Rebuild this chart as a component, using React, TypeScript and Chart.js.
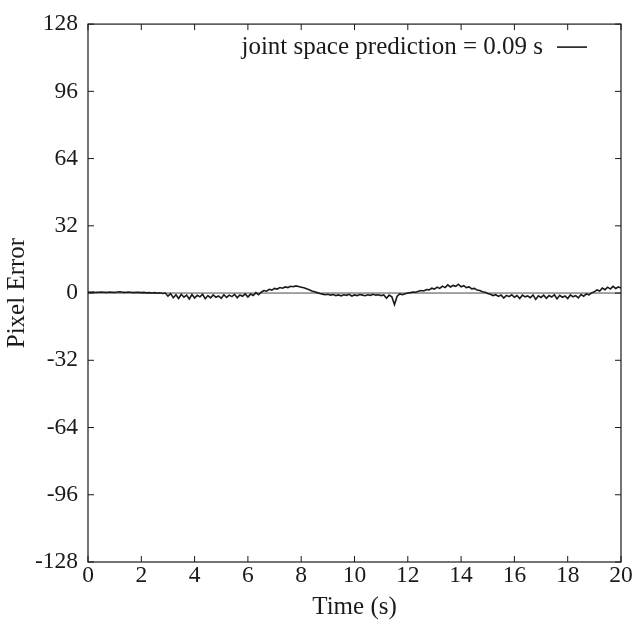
import React, { useEffect, useRef } from "react";
import { Chart, registerables } from "chart.js";

Chart.register(...registerables);

const seriesLabel = "joint space prediction = 0.09 s";
const sampleStep = 0.1; // seconds between samples
const xTicks = [0, 2, 4, 6, 8, 10, 12, 14, 16, 18, 20];
const yTicks = [-128, -96, -64, -32, 0, 32, 64, 96, 128];

const pixelError = [
  0.5, 0.4, 0.5, 0.3, 0.4, 0.5, 0.4, 0.3, 0.5, 0.4,
  0.3, 0.5, 0.6, 0.4, 0.3, 0.5, 0.4, 0.2, 0.4, 0.3,
  0.2, 0.3, 0.1, 0.2, 0.0, 0.2, -0.1, 0.1, -0.2, 0.0,
  -1.5, -0.3, -2.2, -0.8, -2.6, -0.6, -2.0, -1.0, -2.8, -0.7,
  -2.4, -1.1, -1.8, -0.6, -2.7, -1.2, -2.3, -0.9, -2.0, -1.4,
  -2.5, -0.8, -2.1, -1.0, -1.7, -0.6, -2.2, -0.9, -1.5, -0.4,
  -1.9, -0.5, -1.2, 0.2, -0.8,
  0.4, 1.2, 0.9, 1.8, 1.4, 2.2, 1.9, 2.6, 2.3, 2.9,
  2.6, 3.2, 3.0, 3.4, 3.1, 2.8, 2.5, 2.0, 1.6, 1.0,
  0.6, 0.2, -0.2, -0.5, -0.8, -0.6,
  -1.0, -0.7, -1.2, -0.9, -1.3, -0.8, -1.1, -0.6, -1.4, -0.9,
  -1.2, -0.7, -1.0, -1.3, -0.8, -1.1, -0.6, -1.0, -0.8, -1.2,
  -0.9, -2.5, -1.0, -1.8, -5.5, -1.5, -0.4, -0.8, -0.3, 0.0,
  0.2, 0.5, 0.4, 0.9, 1.2, 1.0, 1.7, 1.5, 2.3, 1.9,
  2.8, 2.2, 3.3, 2.6, 3.9, 2.9, 3.6, 3.2, 4.2, 3.0,
  3.5, 2.6, 2.9, 2.0, 2.2, 1.4, 1.2, 0.6, 0.4, -0.2,
  -0.6, -1.2, -0.8, -1.6, -0.9, -2.4, -1.1, -1.7, -0.8, -2.0,
  -1.2, -2.6, -1.0, -1.8, -1.4, -2.2, -0.9, -3.0, -1.3, -2.1,
  -1.0, -2.5, -1.2, -1.9, -0.8, -2.8, -1.1, -2.0, -1.4, -2.6,
  -0.9, -1.8, -1.2, -2.3, -0.7, -1.5, -0.4, -0.9, 0.1,
  0.6, 1.5, 1.0, 2.4, 1.6, 2.8, 1.9, 3.2, 2.2, 2.9, 2.4,
];

const FONT = "'Liberation Serif', 'DejaVu Serif', serif";
const INK = "#1a1a1a";

const framePlugin = {
  id: "frameTicks",
  afterDatasetsDraw(chart: any) {
    const { ctx, chartArea: a, scales } = chart;
    const xs = scales.x;
    const ys = scales.y;
    ctx.save();
    // zero reference line
    const y0 = ys.getPixelForValue(0);
    ctx.strokeStyle = INK;
    ctx.lineWidth = 0.8;
    ctx.beginPath();
    ctx.moveTo(a.left, y0);
    ctx.lineTo(a.right, y0);
    ctx.stroke();
    // frame
    ctx.lineWidth = 1.2;
    ctx.strokeRect(a.left, a.top, a.right - a.left, a.bottom - a.top);
    // inward ticks
    const len = 6;
    ctx.lineWidth = 1;
    ctx.beginPath();
    xTicks.forEach((v) => {
      const px = xs.getPixelForValue(v);
      ctx.moveTo(px, a.bottom);
      ctx.lineTo(px, a.bottom - len);
      ctx.moveTo(px, a.top);
      ctx.lineTo(px, a.top + len);
    });
    yTicks.forEach((v) => {
      const py = ys.getPixelForValue(v);
      ctx.moveTo(a.left, py);
      ctx.lineTo(a.left + len, py);
      ctx.moveTo(a.right, py);
      ctx.lineTo(a.right - len, py);
    });
    ctx.stroke();
    // legend
    ctx.font = `25px ${FONT}`;
    ctx.fillStyle = INK;
    ctx.textAlign = "right";
    ctx.textBaseline = "middle";
    const ly = a.top + 23;
    const lineEnd = a.right - 34;
    const lineStart = lineEnd - 30;
    ctx.fillText(chart.data.datasets[0].label, lineStart - 14, ly);
    ctx.lineWidth = 1.6;
    ctx.beginPath();
    ctx.moveTo(lineStart, ly);
    ctx.lineTo(lineEnd, ly);
    ctx.stroke();
    ctx.restore();
  },
};

export default function App() {
  const ref = useRef<HTMLCanvasElement>(null);
  useEffect(() => {
    document.body.style.margin = "0";
    const data = pixelError.map((v, i) => ({ x: i * sampleStep, y: v }));
    const chart = new Chart(ref.current!, {
      type: "line",
      data: {
        datasets: [
          {
            label: seriesLabel,
            data,
            borderColor: INK,
            borderWidth: 1.6,
            pointRadius: 0,
            tension: 0,
            fill: false,
          },
        ],
      },
      options: {
        animation: false,
        responsive: false,
        layout: { padding: { top: 22, right: 20, left: 0, bottom: 0 } },
        plugins: { legend: { display: false }, tooltip: { enabled: false } },
        scales: {
          x: {
            type: "linear",
            min: 0,
            max: 20,
            afterBuildTicks: (s: any) => {
              s.ticks = xTicks.map((v) => ({ value: v }));
            },
            afterFit: (s: any) => {
              s.height = 61;
            },
            grid: { display: false, drawTicks: false },
            border: { display: false },
            ticks: { font: { family: FONT, size: 23.5 }, color: INK, padding: 0, maxRotation: 0, autoSkip: false },
            title: { display: true, text: "Time (s)", font: { family: FONT, size: 25 }, color: INK, padding: { top: 0, bottom: 1 } },
          },
          y: {
            type: "linear",
            min: -128,
            max: 128,
            afterBuildTicks: (s: any) => {
              s.ticks = yTicks.map((v) => ({ value: v }));
            },
            afterFit: (s: any) => {
              s.width = 88;
            },
            grid: { display: false, drawTicks: false },
            border: { display: false },
            ticks: { font: { family: FONT, size: 23.5 }, color: INK, padding: 10, autoSkip: false },
            title: { display: true, text: "Pixel Error", font: { family: FONT, size: 25 }, color: INK, padding: { top: 2, bottom: 0 } },
          },
        },
      },
      plugins: [framePlugin],
    });
    return () => chart.destroy();
  }, []);
  return (
    <div style={{ width: 641, height: 623, background: "#fff" }}>
      <canvas ref={ref} width={641} height={623} style={{ display: "block" }} />
    </div>
  );
}
